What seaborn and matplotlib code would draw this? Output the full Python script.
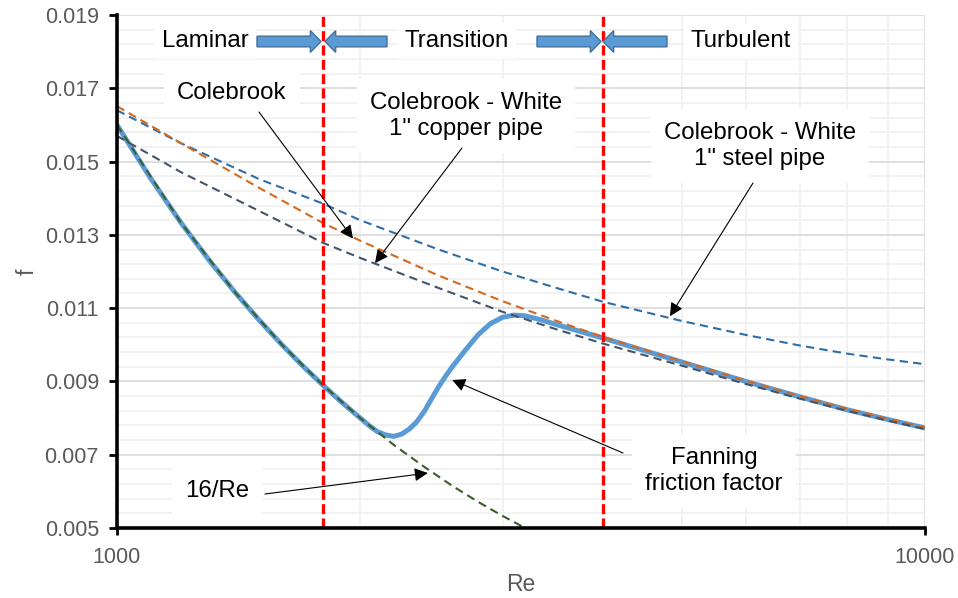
import matplotlib
matplotlib.use("Agg")
import matplotlib.pyplot as plt
import seaborn as sns
import numpy as np
from matplotlib.patches import FancyArrow
from matplotlib.ticker import FixedLocator, NullFormatter

# Fanning friction factor (thick blue curve)
re_fanning = [1000, 1100, 1200, 1300, 1400, 1500, 1600, 1700, 1800, 1900, 2000, 2050, 2100, 2150,
              2200, 2250, 2300, 2350, 2400, 2450, 2500, 2550, 2600, 2700, 2800, 2900, 3000,
              3100, 3200, 3350, 3500, 4000, 5000, 6000, 7000, 8000, 9000, 10000]
f_fanning = [0.0160, 0.01455, 0.01333, 0.01231, 0.01143, 0.01067, 0.0100, 0.00941, 0.00889,
             0.00842, 0.0080, 0.0078, 0.00763, 0.00754, 0.0075, 0.00756, 0.0077, 0.0079,
             0.00818, 0.00852, 0.00885, 0.00914, 0.0094, 0.00986, 0.01028, 0.01058, 0.01075,
             0.01081, 0.01079, 0.01068, 0.01055, 0.01018, 0.00953, 0.0090, 0.00858, 0.00823,
             0.00796, 0.00773]

# laminar 16/Re line
re_laminar = [1000, 1200, 1400, 1600, 1800, 2000, 2200, 2400, 2600, 2800, 3000, 3200]
f_laminar = [0.016, 0.01333, 0.01143, 0.0100, 0.00889, 0.0080, 0.00727, 0.00667, 0.00615,
             0.00571, 0.00533, 0.0050]

# Colebrook curves
re_cb = [1000, 1200, 1500, 1800, 2000, 2500, 3000, 3500, 4000, 5000, 6000, 7000, 8000, 9000, 10000]
f_smooth = [0.01651, 0.01550, 0.01428, 0.01332, 0.01284, 0.01189, 0.01119, 0.01065, 0.01021,
            0.00955, 0.00902, 0.0086, 0.00826, 0.00798, 0.00774]
f_copper = [0.0157, 0.01471, 0.01365, 0.01278, 0.01237, 0.01155, 0.0109, 0.01042, 0.01003,
            0.00943, 0.00893, 0.00853, 0.0082, 0.00793, 0.0077]
f_steel = [0.0164, 0.0155, 0.01452, 0.01385, 0.0134, 0.0126, 0.0120, 0.01155, 0.01117,
           0.01065, 0.01027, 0.00998, 0.00976, 0.0096, 0.00947]

regime_bounds = [1800, 4000]
regime_labels = ["Laminar", "Transition", "Turbulent"]

sns.set_style("white")
plt.rcParams["font.family"] = ["Liberation Sans", "DejaVu Sans"]

fig = plt.figure(figsize=(9.58, 5.98), dpi=100)
ax = fig.add_axes([117 / 958, 70 / 598, 808 / 958, 513 / 598])

sns.lineplot(x=re_fanning, y=f_fanning, ax=ax, color="#5B9BD5", lw=3.6, zorder=2)
dash = (0, (4, 2.5))
sns.lineplot(x=re_cb, y=f_steel, ax=ax, color="#2E6DA8", lw=1.5, ls=dash, zorder=3)
sns.lineplot(x=re_cb, y=f_smooth, ax=ax, color="#D2691E", lw=1.5, ls=dash, zorder=3)
sns.lineplot(x=re_cb, y=f_copper, ax=ax, color="#44546A", lw=1.5, ls=dash, zorder=3)
sns.lineplot(x=re_laminar, y=f_laminar, ax=ax, color="#3A5E27", lw=1.5, ls=dash, zorder=3)

for b in regime_bounds:
    ax.axvline(b, color="red", lw=2.4, ls=(0, (3, 1.3)), zorder=4)

ax.set_xscale("log")
ax.set_xlim(1000, 10000)
ax.set_ylim(0.005, 0.019)
ax.xaxis.set_major_locator(FixedLocator([1000, 10000]))
ax.set_xticklabels(["1000", "10000"])
ax.xaxis.set_minor_locator(FixedLocator([2000, 3000, 4000, 5000, 6000, 7000, 8000, 9000]))
ax.xaxis.set_minor_formatter(NullFormatter())
yt = [0.005, 0.007, 0.009, 0.011, 0.013, 0.015, 0.017, 0.019]
ax.yaxis.set_major_locator(FixedLocator(yt))
ax.set_yticklabels([f"{v:.3f}" for v in yt])
ax.yaxis.set_minor_locator(FixedLocator(np.arange(0.005, 0.0191, 0.0004)))

ax.grid(which="major", axis="both", color="#D9D9D9", lw=1.2, zorder=0)
ax.grid(which="minor", axis="both", color="#F0F0F0", lw=1.2, zorder=0)
ax.set_axisbelow(True)

for s in ["top", "right"]:
    ax.spines[s].set_visible(False)
for s in ["left", "bottom"]:
    ax.spines[s].set_linewidth(2.6)
    ax.spines[s].set_color("black")
    ax.spines[s].set_zorder(6)
ax.tick_params(which="major", axis="y", length=6, width=2, color="black", pad=7,
               labelsize=15.5, labelcolor="#595959", left=True)
ax.tick_params(which="major", axis="x", length=5, width=2, color="black", pad=9,
               labelsize=15.5, labelcolor="#595959", bottom=True)
ax.tick_params(which="minor", length=0)

ax.set_xlabel("Re", fontsize=16.5, color="#595959", va="center")
ax.set_ylabel("f", fontsize=16.5, color="#595959")
ax.xaxis.set_label_coords(0.5, -0.11)
ax.yaxis.set_label_coords(-0.097, 0.5)


def fx(px):
    return (px - 117) / 808


def fy(py):
    return (528 - py) / 513


# regime labels and block arrows
box = dict(boxstyle="square,pad=0.3", fc="white", ec="none")
for lab, px in zip(regime_labels, [205, 457, 741]):
    ax.text(fx(px), fy(41), lab, transform=ax.transAxes, ha="center", va="center",
            fontsize=17.3, color="black", bbox=box, zorder=6)

for x0, x1 in [(257, 321), (387, 325), (537, 601), (667, 603)]:
    ax.add_patch(FancyArrow(fx(x0), fy(41.5), fx(x1) - fx(x0), 0, width=0.0208,
                            head_width=0.0423, head_length=0.0132, length_includes_head=True,
                            transform=ax.transAxes, fc="#5B9BD5", ec="#41719C", lw=1,
                            clip_on=False, zorder=5))

# curve labels with pointer arrows
lbox = dict(boxstyle="square,pad=0.55", fc="white", ec="none")
labels = [
    ("Colebrook", (232, 93), (259, 112), (1959, 0.0129)),
    ("Colebrook - White\n1\" copper pipe", (466, 116), (462, 148), (2086, 0.01223)),
    ("Colebrook - White\n1\" steel pipe", (760, 146), (753, 183), (4834, 0.01078)),
    ("Fanning\nfriction factor", (714, 471), (623, 453), (2599, 0.00904)),
    ("16/Re", (217, 491), (265, 494), (2425, 0.0065)),
]
for txt, (tx, ty), (sx, sy), tip in labels:
    ax.text(fx(tx), fy(ty), txt, transform=ax.transAxes, ha="center", va="center",
            fontsize=17.3, color="black", linespacing=1.2, bbox=lbox, zorder=6)
    ax.annotate("", xy=tip, xycoords="data", xytext=(fx(sx), fy(sy)),
                textcoords="axes fraction",
                arrowprops=dict(arrowstyle="-|>", color="black", lw=0.8,
                                mutation_scale=20, shrinkA=0, shrinkB=0),
                zorder=7)

fig.savefig("out.png", dpi=100)
